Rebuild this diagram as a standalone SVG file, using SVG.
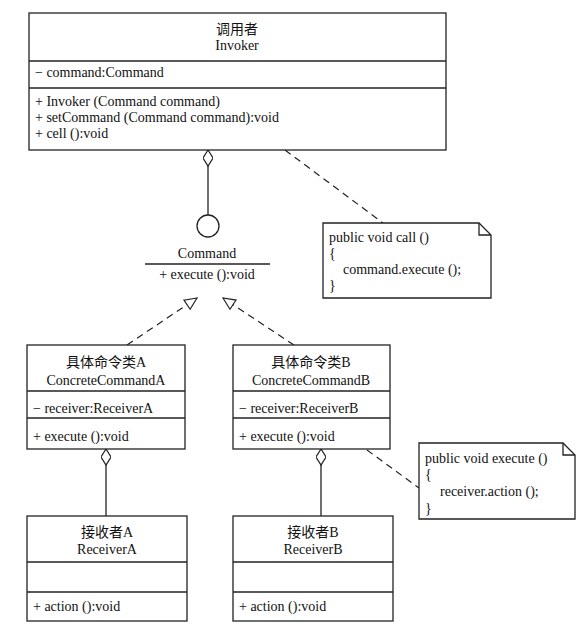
<svg xmlns="http://www.w3.org/2000/svg" width="580" height="627" viewBox="0 0 580 627">
<style>
  .box { fill: #fff; stroke: #222; stroke-width: 1.3; }
  .ln { fill: none; stroke: #222; stroke-width: 1.3; }
  .dash { fill: none; stroke: #222; stroke-width: 1.2; stroke-dasharray: 7 5; }
  text { font-family: "Liberation Serif", "Noto Sans CJK SC", serif; font-size: 14px; fill: #111; }
  .c { text-anchor: middle; }
  .cjk { font-size: 14px; }
</style>
<defs>
  <marker id="diamond" viewBox="0 0 18 10" refX="0" refY="5" markerWidth="18" markerHeight="10" markerUnits="userSpaceOnUse" orient="auto">
    <path d="M0,5 L8,0 L16,5 L8,10 Z" fill="#fff" stroke="#222" stroke-width="1.2"/>
  </marker>
  <marker id="tri" viewBox="0 0 14 14" refX="13" refY="7" markerWidth="14" markerHeight="14" markerUnits="userSpaceOnUse" orient="auto">
    <path d="M13,7 L1,1.5 L1,12.5 Z" fill="#fff" stroke="#222" stroke-width="1.2"/>
  </marker>
</defs>

<g id="connectors">
  <line class="ln" x1="208" y1="150" x2="208" y2="215" marker-start="url(#diamond)"/>
  <line class="dash" x1="285" y1="150" x2="383" y2="223"/>
  <line class="dash" x1="127" y1="345" x2="197" y2="298" marker-end="url(#tri)"/>
  <line class="dash" x1="294" y1="345" x2="223" y2="298" marker-end="url(#tri)"/>
  <line class="ln" x1="106" y1="449" x2="106" y2="516" marker-start="url(#diamond)"/>
  <line class="ln" x1="321" y1="449" x2="321" y2="516" marker-start="url(#diamond)"/>
  <line class="dash" x1="367" y1="450" x2="419" y2="488"/>
</g>

<g id="invoker">
  <rect class="box" x="29" y="13" width="417" height="137"/>
  <line class="ln" x1="29" y1="61" x2="446" y2="61"/>
  <line class="ln" x1="29" y1="88" x2="446" y2="88"/>
  <text class="c cjk" x="237" y="34">调用者</text>
  <text class="c" x="237" y="50">Invoker</text>
  <text x="35" y="77">− command:Command</text>
  <text x="35" y="106">+ Invoker (Command command)</text>
  <text x="35" y="122">+ setCommand (Command command):void</text>
  <text x="35" y="138">+ cell ():void</text>
</g>

<g id="command">
  <circle class="box" cx="208" cy="226" r="11"/>
  <text class="c" x="207" y="258">Command</text>
  <line class="ln" x1="145" y1="264" x2="270" y2="264"/>
  <text class="c" x="207" y="279">+ execute ():void</text>
</g>

<g id="note-call">
  <path class="box" d="M323,223 L479,223 L491,235 L491,298 L323,298 Z"/>
  <path class="ln" d="M479,223 L479,235 L491,235"/>
  <text x="329" y="242">public void call ()</text>
  <text x="329" y="258">{</text>
  <text x="343" y="274">command.execute ();</text>
  <text x="329" y="290">}</text>
</g>

<g id="concreteA">
  <rect class="box" x="27" y="345" width="158" height="104"/>
  <line class="ln" x1="27" y1="391" x2="185" y2="391"/>
  <line class="ln" x1="27" y1="418" x2="185" y2="418"/>
  <text class="c cjk" x="106" y="367">具体命令类A</text>
  <text class="c" x="106" y="385">ConcreteCommandA</text>
  <text x="33" y="413">− receiver:ReceiverA</text>
  <text x="33" y="441">+ execute ():void</text>
</g>

<g id="concreteB">
  <rect class="box" x="233" y="345" width="157" height="104"/>
  <line class="ln" x1="233" y1="391" x2="390" y2="391"/>
  <line class="ln" x1="233" y1="418" x2="390" y2="418"/>
  <text class="c cjk" x="311" y="367">具体命令类B</text>
  <text class="c" x="311" y="385">ConcreteCommandB</text>
  <text x="239" y="413">− receiver:ReceiverB</text>
  <text x="239" y="441">+ execute ():void</text>
</g>

<g id="note-execute">
  <path class="box" d="M419,443 L563,443 L575,455 L575,519 L419,519 Z"/>
  <path class="ln" d="M563,443 L563,455 L575,455"/>
  <text x="425" y="463">public void execute ()</text>
  <text x="425" y="479">{</text>
  <text x="440" y="496">receiver.action ();</text>
  <text x="425" y="513">}</text>
</g>

<g id="receiverA">
  <rect class="box" x="27" y="516" width="160" height="105"/>
  <line class="ln" x1="27" y1="562" x2="187" y2="562"/>
  <line class="ln" x1="27" y1="592" x2="187" y2="592"/>
  <text class="c cjk" x="107" y="537">接收者A</text>
  <text class="c" x="107" y="554">ReceiverA</text>
  <text x="33" y="611">+ action ():void</text>
</g>

<g id="receiverB">
  <rect class="box" x="233" y="516" width="160" height="105"/>
  <line class="ln" x1="233" y1="562" x2="393" y2="562"/>
  <line class="ln" x1="233" y1="592" x2="393" y2="592"/>
  <text class="c cjk" x="313" y="537">接收者B</text>
  <text class="c" x="313" y="554">ReceiverB</text>
  <text x="239" y="611">+ action ():void</text>
</g>
</svg>
